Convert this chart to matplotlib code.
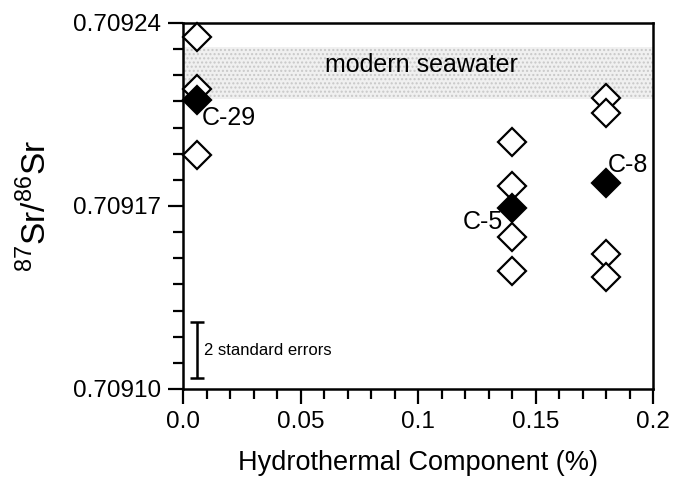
"""Sr isotope ratio versus hydrothermal component."""

import matplotlib

matplotlib.use("Agg")
import matplotlib.pyplot as plt
import numpy as np

plt.rcParams["font.family"] = ["Liberation Sans", "DejaVu Sans"]
plt.rcParams["mathtext.fontset"] = "custom"
plt.rcParams["mathtext.rm"] = "Liberation Sans"

# open diamonds: all samples
open_x = [0.006, 0.006, 0.006, 0.14, 0.14, 0.14, 0.14, 0.18, 0.18, 0.18, 0.18]
open_y = [0.7092346, 0.7092148, 0.7091895,
          0.7091945, 0.7091776, 0.7091581, 0.7091451,
          0.7092113, 0.7092056, 0.7091516, 0.7091428]

# filled diamonds: labelled samples
filled_x = [0.006, 0.14, 0.18]
filled_y = [0.7092105, 0.7091692, 0.7091788]
filled_names = ["C-29", "C-5", "C-8"]

seawater_band = (0.709211, 0.709231)
err_x = 0.006
err_lo, err_hi = 0.7091042, 0.7091256

x_ticks = [0.0, 0.05, 0.1, 0.15, 0.2]
x_ticklabels = ["0.0", "0.05", "0.1", "0.15", "0.2"]
y_ticks = [0.70910, 0.70917, 0.70924]

fig = plt.figure(figsize=(6.83, 4.8), dpi=100)
ax = fig.add_axes([183 / 683, 1 - 389 / 480, 470 / 683, 366 / 480])

ax.axhspan(*seawater_band, facecolor="#f0f0f0", edgecolor="#c8c8c8",
           hatch="....", linewidth=0, zorder=0)
ax.text(0.1015, 0.709224, "modern seawater", fontsize=18, ha="center", va="center")

ax.plot(open_x, open_y, linestyle="none", marker="D", markersize=14,
        markerfacecolor="white", markeredgecolor="black", markeredgewidth=1.6,
        zorder=3, clip_on=False)
ax.plot(filled_x, filled_y, linestyle="none", marker="D", markersize=14,
        markerfacecolor="black", markeredgecolor="black", markeredgewidth=1.6,
        zorder=4, clip_on=False)

offsets = {"C-29": ((5, -18), "left"), "C-5": ((-9, -14), "right"), "C-8": ((2, 18), "left")}
for x, y, name in zip(filled_x, filled_y, filled_names):
    off, ha = offsets[name]
    ax.annotate(name, (x, y), xytext=off, textcoords="offset pixels",
                fontsize=18, ha=ha, va="center")

# 2 standard errors bar
ax.errorbar([err_x], [(err_lo + err_hi) / 2], yerr=[(err_hi - err_lo) / 2],
            fmt="none", ecolor="black", elinewidth=1.8, capsize=5, capthick=1.8)
ax.text(0.0089, (err_lo + err_hi) / 2, "2 standard errors", fontsize=12,
        ha="left", va="center")

ax.set_xlim(0, 0.2)
ax.set_ylim(0.70910, 0.70924)
ax.set_xticks(x_ticks)
ax.set_xticklabels(x_ticklabels)
ax.set_xticks(np.linspace(0, 0.2, 21), minor=True)
ax.set_yticks(y_ticks)
ax.set_yticklabels([f"{v:.5f}" for v in y_ticks])
ax.set_yticks(np.linspace(0.70910, 0.70924, 15), minor=True)

ax.tick_params(axis="both", which="major", direction="out", length=11,
               width=1.6, labelsize=17.5, pad=5)
ax.tick_params(axis="both", which="minor", direction="out", length=7, width=1.6)
for spine in ax.spines.values():
    spine.set_linewidth(1.8)

ax.set_xlabel("Hydrothermal Component (%)", fontsize=19.5, labelpad=12)
ax.set_ylabel(r"$^{87}$Sr/$^{86}$Sr", fontsize=24, labelpad=14)

fig.savefig("out.png", dpi=100)
